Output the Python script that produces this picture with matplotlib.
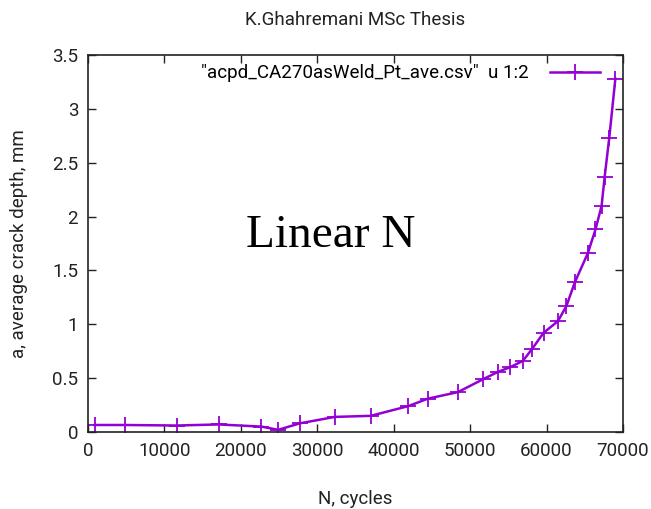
import matplotlib
matplotlib.use("Agg")
import matplotlib.pyplot as plt

cycles = [900, 4800, 11600, 17100, 22700, 24900, 27700, 32300, 37000, 41900,
          44500, 48400, 51700, 53700, 55200, 56900, 58100, 59600, 61500, 62600,
          63700, 65400, 66400, 67200, 67600, 68200, 69000]
depth = [0.065, 0.065, 0.06, 0.07, 0.05, 0.02, 0.08, 0.14, 0.15, 0.24,
         0.31, 0.37, 0.49, 0.56, 0.60, 0.66, 0.77, 0.92, 1.03, 1.17,
         1.39, 1.66, 1.88, 2.10, 2.37, 2.73, 3.28]
xticks = [0, 10000, 20000, 30000, 40000, 50000, 60000, 70000]
yticks = [0, 0.5, 1, 1.5, 2, 2.5, 3, 3.5]
ytick_labels = ["0", "0.5", "1", "1.5", "2", "2.5", "3", "3.5"]

plt.rcParams['font.family'] = ['Roboto', 'DejaVu Sans']
fs = 13.5
fig = plt.figure(figsize=(6.51, 5.09), dpi=100)
ax = fig.add_axes([0.135, 0.1513, 0.822, 0.7407])
color = '#9400D3'
ax.plot(cycles, depth, color=color, lw=1.8, marker='+', ms=11, mew=1.3,
        label='"acpd_CA270asWeld_Pt_ave.csv"  u 1:2')
ax.set_xlim(0, 70000)
ax.set_ylim(0, 3.5)
ax.set_xticks(xticks)
ax.set_yticks(yticks)
ax.set_yticklabels(ytick_labels)
ax.tick_params(direction='in', top=True, right=True, length=6, width=1,
               labelsize=fs, colors='#222222', pad=7)
for s in ax.spines.values():
    s.set_linewidth(1.2)
    s.set_color('#222222')
ax.set_xlabel('N, cycles', fontsize=fs, labelpad=22, color='#222222')
ax.set_ylabel('a, average crack depth, mm', fontsize=fs, labelpad=17, color='#222222')
fig.suptitle('K.Ghahremani MSc Thesis', fontsize=fs, y=0.978, x=0.546, color='#222222')
leg = ax.legend(loc='upper right', frameon=False, markerfirst=False, fontsize=fs,
                handlelength=2.7, borderaxespad=0.1, handletextpad=1.1,
                bbox_to_anchor=(0.975, 1.0))
ax.text(0.295, 0.52, 'Linear N', transform=ax.transAxes, fontsize=34,
        family='Liberation Serif', ha='left', va='center')
fig.savefig('out.png', dpi=100)
